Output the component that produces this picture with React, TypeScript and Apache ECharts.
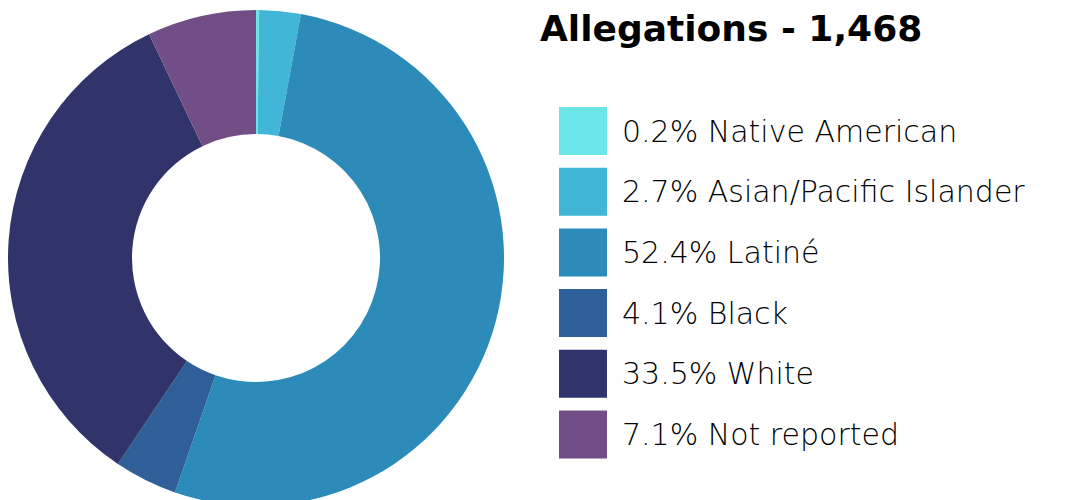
import React, { useEffect, useRef } from "react";
import * as echarts from "echarts";

const categories = ["Native American", "Asian/Pacific Islander", "Latiné", "Black", "White", "Not reported"];
const shares = [0.2, 2.7, 52.4, 4.1, 33.5, 7.1];
const colors = ["#6ce6e8", "#41b6d6", "#2d8bba", "#2e5f98", "#30346b", "#724e86"];
const titleText = "Allegations - 1,468";

export default function App() {
  const ref = useRef<HTMLDivElement>(null);
  useEffect(() => {
    document.body.style.margin = "0";
    const chart = echarts.init(ref.current!, undefined, { renderer: "svg" });
    chart.setOption({
      animation: false,
      color: colors,
      title: {
        text: titleText,
        left: 535,
        top: 5,
        textStyle: { fontFamily: "DejaVu Sans", fontWeight: "bold", fontSize: 36, color: "#000" },
      },
      legend: {
        orient: "vertical",
        left: 554,
        top: 102,
        itemWidth: 48,
        itemHeight: 48,
        itemGap: 12.7,
        icon: "rect",
        selectedMode: false,
        formatter: (name: string) => {
          const i = categories.indexOf(name);
          return `${shares[i]}% ${name}`;
        },
        textStyle: {
          fontFamily: "DejaVu Sans",
          fontWeight: 200,
          fontSize: 30,
          color: "#000",
          padding: [0, 0, 0, 10],
        },
      },
      series: [
        {
          type: "pie",
          center: [256, 258],
          radius: [124, 248],
          startAngle: 90,
          clockwise: true,
          label: { show: false },
          labelLine: { show: false },
          itemStyle: { borderWidth: 0 },
          emphasis: { disabled: true },
          data: categories.map((c, i) => ({ name: c, value: shares[i] })),
        },
      ],
    });
    return () => chart.dispose();
  }, []);
  return <div ref={ref} style={{ width: 1068, height: 500 }} />;
}
